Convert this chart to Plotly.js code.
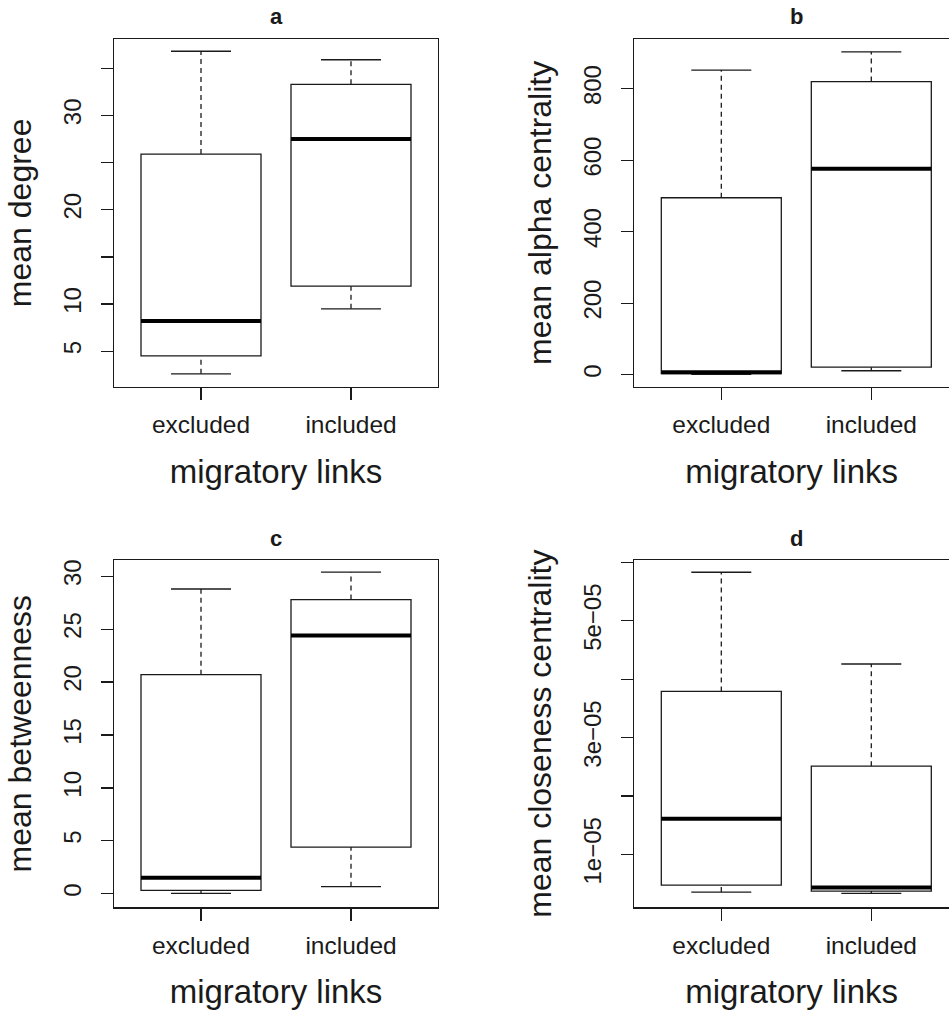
<!DOCTYPE html>
<html>
<head>
<meta charset="utf-8">
<script src="https://cdn.plot.ly/plotly-3.0.1.min.js"></script>
<style>html,body{margin:0;padding:0;background:#fff;}#chart{width:949px;height:1016px;}</style>
</head>
<body>
<div id="chart"></div>
<script>
// ---- data ----
const categories = ['excluded', 'included'];
const catPos = [1, 2];

// a: mean degree
const degLo  = [2.6, 9.5];
const degQ1  = [4.5, 11.9];
const degMed = [8.2, 27.5];
const degQ3  = [25.9, 33.3];
const degHi  = [36.8, 35.9];

// b: mean alpha centrality
const alphaLo  = [1, 11];
const alphaQ1  = [3, 21];
const alphaMed = [7, 576];
const alphaQ3  = [495, 820];
const alphaHi  = [852, 903];

// c: mean betweenness
const betwLo  = [0.03, 0.66];
const betwQ1  = [0.31, 4.4];
const betwMed = [1.5, 24.4];
const betwQ3  = [20.7, 27.8];
const betwHi  = [28.8, 30.4];

// d: mean closeness centrality
const closLo  = [0.356e-5, 0.334e-5];
const closQ1  = [0.476e-5, 0.373e-5];
const closMed = [1.61e-5, 0.436e-5];
const closQ3  = [3.79e-5, 2.51e-5];
const closHi  = [5.83e-5, 4.26e-5];

// tick labels
const degTickVals = [5, 10, 15, 20, 25, 30, 35];
const degTickText = ['5', '10', '', '20', '', '30', ''];
const alphaTickVals = [0, 200, 400, 600, 800];
const alphaTickText = ['0', '200', '400', '600', '800'];
const betwTickVals = [0, 5, 10, 15, 20, 25, 30];
const betwTickText = ['0', '5', '10', '15', '20', '25', '30'];
const closTickVals = [1e-5, 2e-5, 3e-5, 4e-5, 5e-5, 6e-5];
const closTickText = ['1e\u221205', '', '3e\u221205', '', '5e\u221205', ''];

const panels = [
  {key: 'a', ytitle: 'mean degree', lo: degLo, q1: degQ1, med: degMed, q3: degQ3, hi: degHi,
   tv: degTickVals, tt: degTickText, yr: [1.24, 38.1]},
  {key: 'b', ytitle: 'mean alpha centrality', lo: alphaLo, q1: alphaQ1, med: alphaMed, q3: alphaQ3, hi: alphaHi,
   tv: alphaTickVals, tt: alphaTickText, yr: [-33.6, 939]},
  {key: 'c', ytitle: 'mean betweenness', lo: betwLo, q1: betwQ1, med: betwMed, q3: betwQ3, hi: betwHi,
   tv: betwTickVals, tt: betwTickText, yr: [-1.29, 31.54]},
  {key: 'd', ytitle: 'mean closeness centrality', lo: closLo, q1: closQ1, med: closMed, q3: closQ3, hi: closHi,
   tv: closTickVals, tt: closTickText, yr: [0.095e-5, 6.04e-5]}
];

// ---- layout geometry ----
const W = 949, H = 1016;
const FONT = '"Liberation Sans", Arial, Helvetica, sans-serif';
const INK = '#1a1a1a';
const boxHalf = 0.4, capHalf = 0.2;
// pixel frames [left, right, top, bottom]
const frames = [
  [114, 438, 39, 386.7],
  [634.3, 958.3, 39, 386.7],
  [114, 438, 560, 907.3],
  [634.3, 958.3, 560, 907.3]
];

const traces = [];
const layout = {
  width: W, height: H,
  margin: {l: 0, r: 0, t: 0, b: 0},
  paper_bgcolor: '#fff', plot_bgcolor: '#fff',
  showlegend: false,
  font: {family: FONT, color: INK},
  annotations: []
};

panels.forEach((p, i) => {
  const n = i + 1;
  const xa = n === 1 ? 'x' : 'x' + n;
  const ya = n === 1 ? 'y' : 'y' + n;
  const xk = n === 1 ? 'xaxis' : 'xaxis' + n;
  const yk = n === 1 ? 'yaxis' : 'yaxis' + n;
  const [L, R, T, B] = frames[i];
  const unitPx = (R - L) / 2.16;
  const rightPx = Math.min(R, W);
  const xr = [0.42, 0.42 + (rightPx - L) / unitPx];

  // box body
  traces.push({
    type: 'box', xaxis: xa, yaxis: ya,
    x: catPos, q1: p.q1, median: p.med, q3: p.q3,
    lowerfence: p.q1, upperfence: p.q3,
    width: 2 * boxHalf, whiskerwidth: 0, boxpoints: false,
    fillcolor: '#ffffff', line: {color: INK, width: 1.3},
    hoverinfo: 'skip'
  });
  // whisker stems (dashed)
  const sx = [], sy = [];
  catPos.forEach((c, k) => {
    sx.push(c, c, null, c, c, null);
    sy.push(p.q3[k], p.hi[k], null, p.lo[k], p.q1[k], null);
  });
  traces.push({type: 'scatter', mode: 'lines', xaxis: xa, yaxis: ya, x: sx, y: sy,
    line: {color: INK, width: 1.3, dash: '5px,4px'}, hoverinfo: 'skip'});
  // staples
  const cx = [], cy = [];
  catPos.forEach((c, k) => {
    cx.push(c - capHalf, c + capHalf, null, c - capHalf, c + capHalf, null);
    cy.push(p.hi[k], p.hi[k], null, p.lo[k], p.lo[k], null);
  });
  traces.push({type: 'scatter', mode: 'lines', xaxis: xa, yaxis: ya, x: cx, y: cy,
    line: {color: INK, width: 1.3}, hoverinfo: 'skip'});
  // medians (thick)
  const mx = [], my = [];
  catPos.forEach((c, k) => {
    mx.push(c - boxHalf, c + boxHalf, null);
    my.push(p.med[k], p.med[k], null);
  });
  traces.push({type: 'scatter', mode: 'lines', xaxis: xa, yaxis: ya, x: mx, y: my,
    line: {color: '#000', width: 4}, hoverinfo: 'skip'});

  layout[xk] = {
    domain: [L / W, rightPx / W], range: xr, anchor: ya,
    tickvals: catPos, ticktext: categories,
    ticks: 'outside', ticklen: 12, tickwidth: 1.3, tickcolor: INK,
    showline: true, linecolor: INK, linewidth: 1.3, mirror: true,
    showgrid: false, zeroline: false,
    tickfont: {size: 24.5, family: FONT, color: INK},
    ticklabelstandoff: 4,
    title: {text: 'migratory links', font: {size: 33, family: FONT, color: INK}, standoff: 22}
  };
  layout[yk] = {
    domain: [1 - B / H, 1 - T / H], range: p.yr, anchor: xa,
    tickvals: p.tv, ticktext: p.tt, tickangle: -90,
    ticks: 'outside', ticklen: 12, tickwidth: 1.3, tickcolor: INK,
    showline: true, linecolor: INK, linewidth: 1.3, mirror: true,
    showgrid: false, zeroline: false,
    tickfont: {size: 24, family: FONT, color: INK},
    ticklabelstandoff: 10,
    title: {text: p.ytitle, font: {size: 32, family: FONT, color: INK}, standoff: 18}
  };
  layout.annotations.push({
    xref: 'paper', yref: 'paper', x: ((L + R) / 2) / W, y: 1 - (T - 22) / H,
    xanchor: 'center', yanchor: 'middle', showarrow: false,
    text: '<b>' + p.key + '</b>', font: {size: 22, family: FONT, color: INK}
  });
});

Plotly.newPlot('chart', traces, layout, {staticPlot: true, displayModeBar: false});
</script>
</body>
</html>
